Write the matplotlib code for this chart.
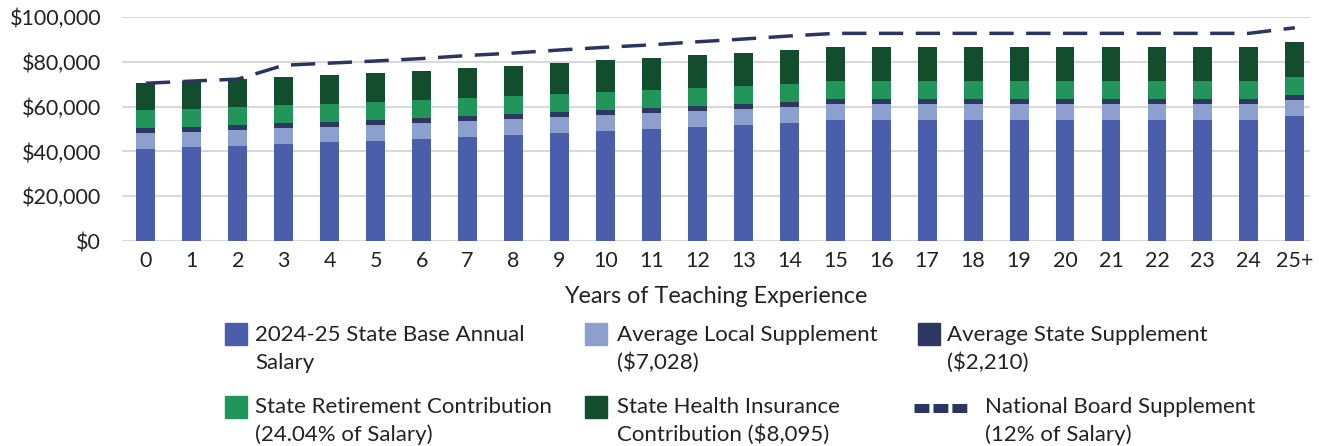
import matplotlib
matplotlib.use("Agg")
import matplotlib.pyplot as plt
from matplotlib.patches import Rectangle
from matplotlib.lines import Line2D

plt.rcParams['font.family'] = ['Lato', 'DejaVu Sans']

years = ["0", "1", "2", "3", "4", "5", "6", "7", "8", "9", "10", "11", "12",
         "13", "14", "15", "16", "17", "18", "19", "20", "21", "22", "23", "24", "25+"]
base_salary = [41000, 41800, 42500, 43300, 44000, 44700, 45500, 46500, 47300, 48300,
               49200, 50000, 51000, 51900, 52900, 54000, 54000, 54000, 54000, 54000,
               54000, 54000, 54000, 54000, 54000, 56000]
local_supp = [7028] * 26
state_supp = [2210] * 26
mid_green_seg = [8095] * 26
dark_green_seg = [12077, 12270, 12438, 12630, 12798, 12967, 13159, 13399, 13592, 13832,
                  14049, 14241, 14481, 14698, 14938, 15202, 15202, 15202, 15202, 15202,
                  15202, 15202, 15202, 15202, 15202, 15683]
national_board = [70410, 71400, 72270, 78460, 79410, 80360, 81450, 82810, 83900, 85260,
                  86490, 87570, 88930, 90160, 91520, 92700, 92700, 92700, 92700, 92700,
                  92700, 92700, 92700, 92700, 92700, 95200]

labels = ["2024-25 State Base Annual\nSalary",
          "Average Local Supplement\n($7,028)",
          "Average State Supplement\n($2,210)",
          "State Retirement Contribution\n(24.04% of Salary)",
          "State Health Insurance\nContribution ($8,095)",
          "National Board Supplement\n(12% of Salary)"]
colors = ["#4a5eab", "#8c9fcf", "#2c3862", "#22955a", "#124e2d"]
line_color = "#2b3560"
text_color = "#222222"

W, H = 1319, 446
fig = plt.figure(figsize=(W / 100, H / 100), dpi=100)
ax = fig.add_axes([122 / W, 1 - 241 / H, (1310 - 122) / W, (241 - 17) / H])

x = list(range(len(years)))
series = [base_salary, local_supp, state_supp, mid_green_seg, dark_green_seg]
bottom = [0] * len(years)
for vals, c in zip(series, colors):
    ax.bar(x, vals, bottom=bottom, width=0.41, color=c, zorder=3)
    bottom = [b + v for b, v in zip(bottom, vals)]

ax.plot(x, national_board, color=line_color, lw=2.5, ls=(0, (7, 3.6)), zorder=4)

ax.set_xlim(-0.52, 25.33)
ax.set_ylim(0, 100000)
ax.set_yticks([0, 20000, 40000, 60000, 80000, 100000])
ax.set_yticklabels(["$0", "$20,000", "$40,000", "$60,000", "$80,000", "$100,000"])
ax.set_xticks(x)
ax.set_xticklabels(years)
ax.tick_params(axis='both', length=0, labelsize=15.5, colors=text_color)
ax.tick_params(axis='y', pad=15)
ax.tick_params(axis='x', pad=7)
ax.grid(axis='y', color="#d9d9d9", lw=1.5, zorder=0)
for s in ax.spines.values():
    s.set_visible(False)
ax.set_xlabel("Years of Teaching Experience", fontsize=16.8, color=text_color, labelpad=11)

# legend (manual layout)
px = [225, 585, 918]
tx = [255, 617, 947]
rows = [(323, 335, 363), (396, 407, 435)]
for i, lab in enumerate(labels):
    r, c = divmod(i, 3)
    py, y1, y2 = rows[r]
    t = tx[c]
    if i < 5:
        fig.patches.append(Rectangle((px[c] / W, 1 - (py + 22) / H), 22 / W, 22 / H,
                                     transform=fig.transFigure, color=colors[i]))
    else:
        fig.lines.append(Line2D([914 / W, 969 / W],
                                [1 - (py + 12) / H] * 2, transform=fig.transFigure,
                                color=line_color, lw=6.5, ls=(0, (1.65, 0.45)),
                                solid_capstyle='butt', dash_capstyle='butt'))
        t = 985
    l1, l2 = lab.split("\n")
    fig.text(t / W, 1 - y1 / H, l1, fontsize=16, color=text_color, va='center', ha='left')
    fig.text(t / W, 1 - y2 / H, l2, fontsize=16, color=text_color, va='center', ha='left')

fig.savefig("out.png", dpi=100)
